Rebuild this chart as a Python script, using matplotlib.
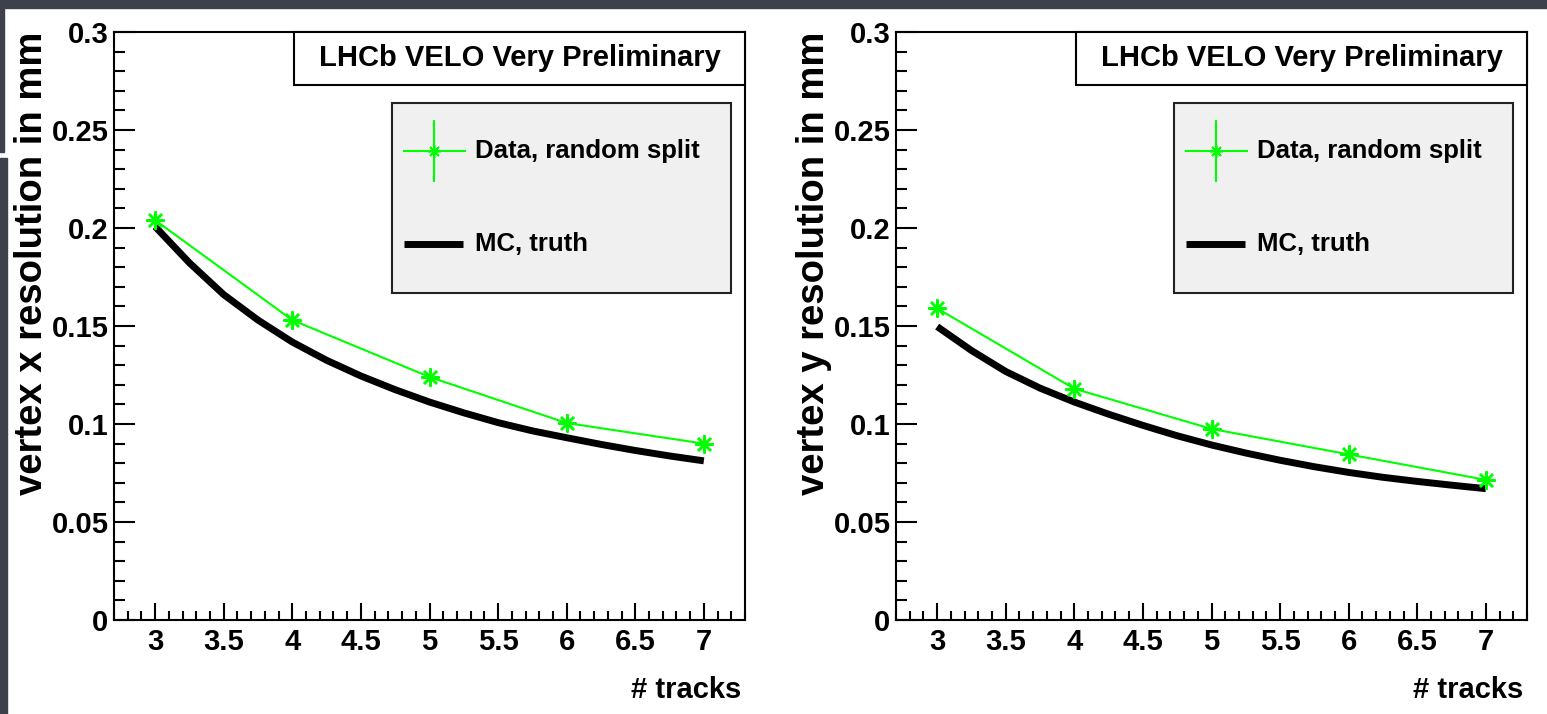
import matplotlib
matplotlib.use('Agg')
import matplotlib.pyplot as plt
from matplotlib.patches import Rectangle
from matplotlib.lines import Line2D
from matplotlib.ticker import MultipleLocator

# number of tracks per vertex
n_tracks = [3, 4, 5, 6, 7]

# data, random split: resolution in mm
data_x = [0.204, 0.153, 0.124, 0.1005, 0.090]
data_y = [0.159, 0.118, 0.0975, 0.0845, 0.0715]

# MC truth curve (read every 0.25 tracks)
mc_tracks = [3.0, 3.25, 3.5, 3.75, 4.0, 4.25, 4.5, 4.75, 5.0,
             5.25, 5.5, 5.75, 6.0, 6.25, 6.5, 6.75, 7.0]
mc_x = [0.2007, 0.1822, 0.1660, 0.1530, 0.1418, 0.1325, 0.1245, 0.1175, 0.1112,
        0.1057, 0.1007, 0.0965, 0.0930, 0.0896, 0.0865, 0.0837, 0.0812]
mc_y = [0.1497, 0.1375, 0.1268, 0.1183, 0.1112, 0.1050, 0.0993, 0.0940, 0.0893,
        0.0852, 0.0815, 0.0782, 0.0753, 0.0728, 0.0707, 0.0688, 0.0670]

panels = [('vertex x resolution in mm', data_x, mc_x),
          ('vertex y resolution in mm', data_y, mc_y)]

GREEN = '#00ff00'
plt.rcParams['font.family'] = ['Liberation Sans', 'DejaVu Sans']
plt.rcParams['font.weight'] = 'bold'

W, H = 1547, 714
fig = plt.figure(figsize=(W / 100, H / 100), dpi=100)

# slide background strips
bg = '#3c414c'
fig.add_artist(Rectangle((0, 1 - 8 / H), 1, 8 / H, transform=fig.transFigure,
                         color=bg, zorder=-5))
fig.add_artist(Rectangle((0, 1 - 152 / H), 4 / W, 152 / H, transform=fig.transFigure,
                         color=bg, zorder=-5))
fig.add_artist(Rectangle((0, 0), 7 / W, 1 - 158 / H, transform=fig.transFigure,
                         color=bg, zorder=-5))

ax_left = [114, 896]
for (ylabel, data, mc), x0 in zip(panels, ax_left):
    ax = fig.add_axes([x0 / W, 1 - 620 / H, 631 / W, 588 / H])
    ax.set_xlim(2.7, 7.3)
    ax.set_ylim(0, 0.3)

    ax.plot(mc_tracks, mc, color='black', lw=5, solid_capstyle='butt', zorder=3)
    ax.plot(n_tracks, data, color=GREEN, lw=1.5, marker=(8, 2, 0), ms=13, mew=1.8,
            zorder=4)

    ax.xaxis.set_major_locator(MultipleLocator(0.5))
    ax.xaxis.set_minor_locator(MultipleLocator(0.1))
    ax.yaxis.set_major_locator(MultipleLocator(0.05))
    ax.yaxis.set_minor_locator(MultipleLocator(0.01))
    ax.xaxis.set_major_formatter(lambda v, p: f'{v:g}')
    ax.yaxis.set_major_formatter(lambda v, p: f'{v:g}')
    ax.tick_params(axis='both', which='both', direction='in', width=1.5,
                   labelsize=21, top=False, right=False)
    ax.tick_params(axis='y', which='major', length=15, pad=4)
    ax.tick_params(axis='y', which='minor', length=8)
    ax.tick_params(axis='x', which='major', length=12, pad=6)
    ax.tick_params(axis='x', which='minor', length=6.5)
    for s in ax.spines.values():
        s.set_linewidth(1.5)

    # title box
    ax.add_patch(Rectangle((0.286, 0.91), 0.714, 0.09, transform=ax.transAxes,
                           facecolor='white', edgecolor='black', lw=1.5,
                           clip_on=False, zorder=5))
    ax.text(0.643, 0.955, 'LHCb VELO Very Preliminary', transform=ax.transAxes,
            ha='center', va='center', fontsize=21, zorder=6)

    # legend box
    ax.add_patch(Rectangle((0.441, 0.556), 0.537, 0.323, transform=ax.transAxes,
                           facecolor='#f0f0f0', edgecolor='#222222', lw=1.5,
                           zorder=5))
    ax.add_artist(Line2D([0.46, 0.556], [0.7976, 0.7976], transform=ax.transAxes,
                         color=GREEN, lw=1.5, zorder=6))
    ax.add_artist(Line2D([0.507, 0.507], [0.7466, 0.8486], transform=ax.transAxes,
                         color=GREEN, lw=1.5, zorder=6))
    ax.add_artist(Line2D([0.507], [0.7976], transform=ax.transAxes, color=GREEN,
                         marker=(8, 2, 0), ms=9, mew=1.2, zorder=6))
    ax.add_artist(Line2D([0.46, 0.553], [0.6395, 0.6395], transform=ax.transAxes,
                         color='black', lw=5, solid_capstyle='butt', zorder=6))
    ax.text(0.572, 0.7976, 'Data, random split', transform=ax.transAxes,
            ha='left', va='center', fontsize=18.5, zorder=6)
    ax.text(0.572, 0.6395, 'MC, truth', transform=ax.transAxes,
            ha='left', va='center', fontsize=18.5, zorder=6)

    fig.text((x0 - 82) / W, 1 - 32 / H, ylabel, rotation=90, ha='center', va='top',
             fontsize=27.5)
    fig.text((x0 + 627) / W, 1 - 690 / H, '# tracks', ha='right', va='center',
             fontsize=21)

fig.savefig('out.png', dpi=100)
